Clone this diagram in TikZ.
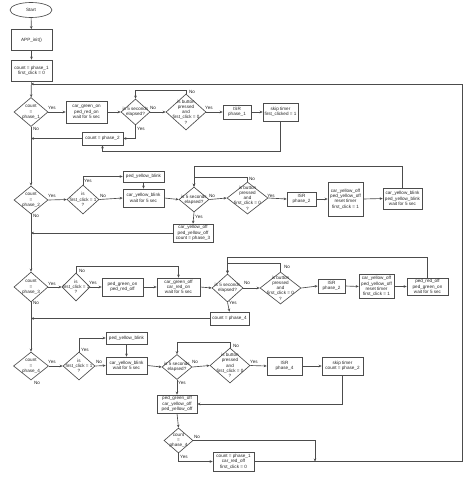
\documentclass[tikz,border=0pt]{standalone}
\usepackage{fontspec}
\setmainfont{Liberation Sans}
\usetikzlibrary{shapes.geometric, arrows.meta}
\begin{document}
\begin{tikzpicture}[x=1pt,y=-1pt,
  every node/.style={font=\fontsize{4.6}{5.3}\selectfont, text=black!85},
  box/.style={draw=black!70, line width=0.65pt, rectangle, inner sep=0.3pt, align=center},
  dia/.style={draw=black!70, line width=0.65pt, diamond, inner sep=0pt},
  txt/.style={align=center, inner sep=0pt},
  lab/.style={inner sep=0pt},
  flowarrow/.style={draw=black!70, line width=0.65pt, -{Stealth[length=3pt,width=2.6pt]}},
  flowline/.style={draw=black!70, line width=0.65pt}]
\fill[white] (0,0) rectangle (474,477);
\useasboundingbox (0,0) rectangle (474,477);

% ---------- top ----------
\node[draw=black!70, line width=0.65pt, ellipse, inner sep=0pt, minimum width=42, minimum height=15] (start) at (31,10) {Start};
\node[box, minimum width=41, minimum height=21] (init) at (31.5,40) {APP\_init()};
\node[box, minimum width=41, minimum height=21] (c1) at (31.5,70.5) {count = phase\_1\\first\_click = 0};

% ---------- row 1 ----------
\node[dia, minimum width=34, minimum height=29] (p1) at (31,112) {};
\node[txt] (p1t) at (p1) {count\\=\\phase\_1};
\node[box, minimum width=41, minimum height=22] (g1) at (86.5,112) {car\_green\_on\\ped\_red\_on\\wait for 5 sec};
\node[dia, minimum width=29, minimum height=26] (t1) at (135.5,112) {};
\node[txt] (t1t) at (t1) {is 5 seconds\\elapsed?};
\node[dia, minimum width=40, minimum height=36] (b1) at (186,112) {};
\node[txt] (b1t) at (b1) {is button\\pressed\\and\\first\_click = 0\\?};
\node[box, minimum width=28, minimum height=14] (i1) at (237,112) {ISR\\phase\_1};
\node[box, minimum width=35, minimum height=18] (s1) at (280.5,112) {skip timer\\first\_clicked = 1};
\node[box, minimum width=41, minimum height=13] (k2) at (102.5,138.5) {count = phase\_2};

% ---------- row 2 ----------
\node[dia, minimum width=34, minimum height=28] (p2) at (31,200) {};
\node[txt] (p2t) at (p2) {count\\=\\phase\_2};
\node[dia, minimum width=32, minimum height=29] (f2) at (83,199.5) {};
\node[txt] (f2t) at (f2) {is\\first\_click = 1\\?};
\node[box, minimum width=41, minimum height=11] (py2) at (143.5,176.5) {ped\_yellow\_blink};
\node[box, minimum width=41, minimum height=18] (cy2) at (143.5,198) {car\_yellow\_blink\\wait for 5 sec};
\node[dia, minimum width=30, minimum height=25] (t2) at (194,199.5) {};
\node[txt] (t2t) at (t2) {is 5 seconds\\elapsed?};
\node[dia, minimum width=41, minimum height=32] (b2) at (247.5,198) {};
\node[txt] (b2t) at (b2) {is button\\pressed\\and\\first\_click = 0\\?};
\node[box, minimum width=29, minimum height=14] (i2) at (301.5,199) {ISR\\phase\_2};
\node[box, minimum width=35, minimum height=34] (r2) at (345.5,199) {car\_yellow\_off\\ped\_yellow\_off\\reset timer\\first\_click = 1};
\node[box, minimum width=39, minimum height=21] (w2) at (402.5,198.5) {car\_yellow\_blink\\ped\_yellow\_blink\\wait for 5 sec};
\node[box, minimum width=40, minimum height=18] (k3) at (193,233) {car\_yellow\_off\\ped\_yellow\_off\\count = phase\_3};

% ---------- row 3 ----------
\node[dia, minimum width=34, minimum height=30] (p3) at (31,287) {};
\node[txt] (p3t) at (p3) {count\\=\\phase\_3};
\node[dia, minimum width=28, minimum height=28] (f3) at (76,287) {};
\node[txt] (f3t) at (f3) {is\\first\_click = 1\\?};
\node[box, minimum width=41, minimum height=18] (pg3) at (122.5,287) {ped\_green\_on\\ped\_red\_off};
\node[box, minimum width=43, minimum height=18] (cg3) at (178.5,287) {car\_green\_off\\car\_red\_on\\wait for 5 sec};
\node[dia, minimum width=31, minimum height=28] (t3) at (227.5,288) {};
\node[txt] (t3t) at (t3) {is 5 seconds\\elapsed?};
\node[dia, minimum width=41, minimum height=32] (b3) at (280.5,288) {};
\node[txt] (b3t) at (b3) {is button\\pressed\\and\\first\_click = 0\\?};
\node[box, minimum width=27, minimum height=14] (i3) at (331.5,286) {ISR\\phase\_2};
\node[box, minimum width=35, minimum height=24] (r3) at (376.5,286.5) {car\_yellow\_off\\ped\_yellow\_off\\reset timer\\first\_click = 1};
\node[box, minimum width=41, minimum height=17] (w3) at (427.5,286.5) {ped\_red\_off\\ped\_green\_on\\wait for 5 sec};
\node[box, minimum width=39, minimum height=13] (k4) at (229.5,318.5) {count = phase\_4};

% ---------- row 4 ----------
\node[dia, minimum width=35, minimum height=28] (p4) at (31,366) {};
\node[txt] (p4t) at (p4) {count\\=\\phase\_4};
\node[dia, minimum width=32, minimum height=28] (f4) at (79,366) {};
\node[txt] (f4t) at (f4) {is\\first\_click = 1\\?};
\node[box, minimum width=41, minimum height=12] (py4) at (126.5,338) {ped\_yellow\_blink};
\node[box, minimum width=41, minimum height=17] (cy4) at (126.5,365.5) {car\_yellow\_blink\\wait for 5 sec};
\node[dia, minimum width=30, minimum height=25] (t4) at (177,367) {};
\node[txt] (t4t) at (t4) {is 5 seconds\\elapsed?};
\node[dia, minimum width=40, minimum height=35] (b4) at (230,365.5) {};
\node[txt] (b4t) at (b4) {is button\\pressed\\and\\first\_click = 0\\?};
\node[box, minimum width=35, minimum height=18] (i4) at (284.5,366) {ISR\\phase\_4};
\node[box, minimum width=41, minimum height=18] (s4) at (342.5,366) {skip timer\\count = phase\_2};
\node[box, minimum width=40, minimum height=18] (o4) at (177,404) {ped\_green\_off\\car\_yellow\_off\\ped\_yellow\_off};
\node[dia, minimum width=29, minimum height=25] (q4) at (178.5,440.5) {};
\node[txt] (q4t) at (q4) {count\\=\\phase\_4};
\node[box, minimum width=41, minimum height=19] (z) at (233.5,461.5) {count = phase\_1\\car\_red\_off\\first\_click = 0};

% ---------- coordinates ----------
\coordinate (m) at (315,461.5);
\coordinate (rb) at (462,461.5);
\coordinate (rt) at (462,84);
\coordinate (lt) at (31,84);

% ---------- main spine ----------
\draw[flowarrow] (start) -- (init);
\draw[flowarrow] (init) -- (c1);
\draw[flowarrow] (c1) -- (p1);
\draw[flowarrow] (p1.south) -- (p2.north);
\draw[flowarrow] (p2.south) -- (p3.north);
\draw[flowarrow] (p3.south) -- (p4.north);

% ---------- row 1 connectors ----------
\draw[flowarrow] (p1.east) -- (g1.west);
\draw[flowarrow] (g1.east) -- (t1.west);
\draw[flowarrow] (t1.east) -- (b1.west);
\draw[flowarrow] (b1.north) -- ++(0,-3) -| (t1.north);
\draw[flowarrow] (b1.east) -- (i1.west);
\draw[flowarrow] (i1.east) -- (s1.west);
\draw[flowarrow] (s1.south) -- ++(0,30) -| (k2.south);
\draw[flowarrow] (t1.south) |- (k2.east);
\draw[flowarrow] (k2.west) -- (k2.west -| p1.south);

% ---------- row 2 connectors ----------
\draw[flowarrow] (p2.east) -- (f2.west);
\draw[flowarrow] (f2.north) |- (py2.west);
\draw[flowarrow] (f2.east) -- (cy2.west);
\draw[flowarrow] (py2.south) -- (cy2.north);
\draw[flowarrow] (cy2.east) -- (t2.west);
\draw[flowarrow] (t2.east) -- (b2.west);
\draw[flowarrow] (b2.north) -- ++(0,-4) -| (t2.north);
\draw[flowarrow] (b2.east) -- (i2.west);
\draw[flowarrow] (i2.east) -- (r2.west);
\draw[flowarrow] (r2.east) -- (w2.west);
\draw[flowarrow] (w2.north) -- ++(0,-21) -| (t2.north);
\draw[flowarrow] (t2.south) -- (k3.north);
\draw[flowarrow] (k3.west) -- (k3.west -| p2.south);

% ---------- row 3 connectors ----------
\draw[flowarrow] (p3.east) -- (f3.west);
\draw[flowarrow] (f3.north) -- ++(0,-6) -| (cg3.north);
\draw[flowarrow] (f3.east) -- (pg3.west);
\draw[flowarrow] (pg3.east) -- (cg3.west);
\draw[flowarrow] (cg3.east) -- (t3.west);
\draw[flowarrow] (t3.east) -- (b3.west);
\draw[flowarrow] (b3.north) -- ++(0,-8) -| (t3.north);
\draw[flowarrow] (b3.east) -- (i3.west);
\draw[flowarrow] (i3.east) -- (r3.west);
\draw[flowarrow] (r3.east) -- (w3.west);
\draw[flowarrow] (w3.north) -- ++(0,-20) -| (t3.north);
\draw[flowarrow] (t3.south) -- (k4.north);
\draw[flowarrow] (k4.west) -- (k4.west -| p3.south);

% ---------- row 4 connectors ----------
\draw[flowarrow] (p4.east) -- (f4.west);
\draw[flowarrow] (f4.north) |- (py4.west);
\draw[flowarrow] (f4.east) -- (cy4.west);
\draw[flowarrow] (py4.south) -- (cy4.north);
\draw[flowarrow] (cy4.east) -- (t4.west);
\draw[flowarrow] (t4.east) -- (b4.west);
\draw[flowarrow] (b4.north) -- ++(0,-5) -| (t4.north);
\draw[flowarrow] (b4.east) -- (i4.west);
\draw[flowarrow] (i4.east) -- (s4.west);
\draw[flowarrow] (s4.south) |- (o4.east);
\draw[flowarrow] (t4.south) -- (o4.north);
\draw[flowarrow] (o4.south) -- (q4.north);
\draw[flowarrow] (q4.east) -| (m);
\draw[flowarrow] (q4.south) |- (z.west);
\draw[flowarrow] (z.east) -- (rb) -- (rt) -- (lt);

% ---------- labels ----------
\node[lab] (l1) at (52,108) {Yes};
\node[lab] (l2) at (36,129) {No};
\node[lab] (l3) at (153,108) {No};
\node[lab] (l4) at (192,92) {No};
\node[lab] (l5) at (209,108) {Yes};
\node[lab] (l6) at (141,129) {Yes};

\node[lab] (l7) at (52,196) {Yes};
\node[lab] (l8) at (36,216) {No};
\node[lab] (l9) at (88,181) {Yes};
\node[lab] (l10) at (103,196) {No};
\node[lab] (l11) at (212,196) {No};
\node[lab] (l12) at (252,179) {No};
\node[lab] (l13) at (271,196) {Yes};
\node[lab] (l14) at (199,217) {Yes};

\node[lab] (l15) at (52,284) {Yes};
\node[lab] (l16) at (36,303) {No};
\node[lab] (l17) at (82,271) {No};
\node[lab] (l18) at (93,283) {Yes};
\node[lab] (l19) at (247,283) {No};
\node[lab] (l20) at (287,267) {No};
\node[lab] (l22) at (233,303) {Yes};

\node[lab] (l23) at (52,362) {Yes};
\node[lab] (l24) at (37,383) {No};
\node[lab] (l25) at (85,350) {Yes};
\node[lab] (l26) at (99,362) {No};
\node[lab] (l27) at (195,362) {No};
\node[lab] (l28) at (236,346) {No};
\node[lab] (l29) at (254,362) {Yes};
\node[lab] (l30) at (182,383) {Yes};
\node[lab] (l31) at (197,437) {No};
\node[lab] (l32) at (184,457) {Yes};
\end{tikzpicture}
\end{document}
